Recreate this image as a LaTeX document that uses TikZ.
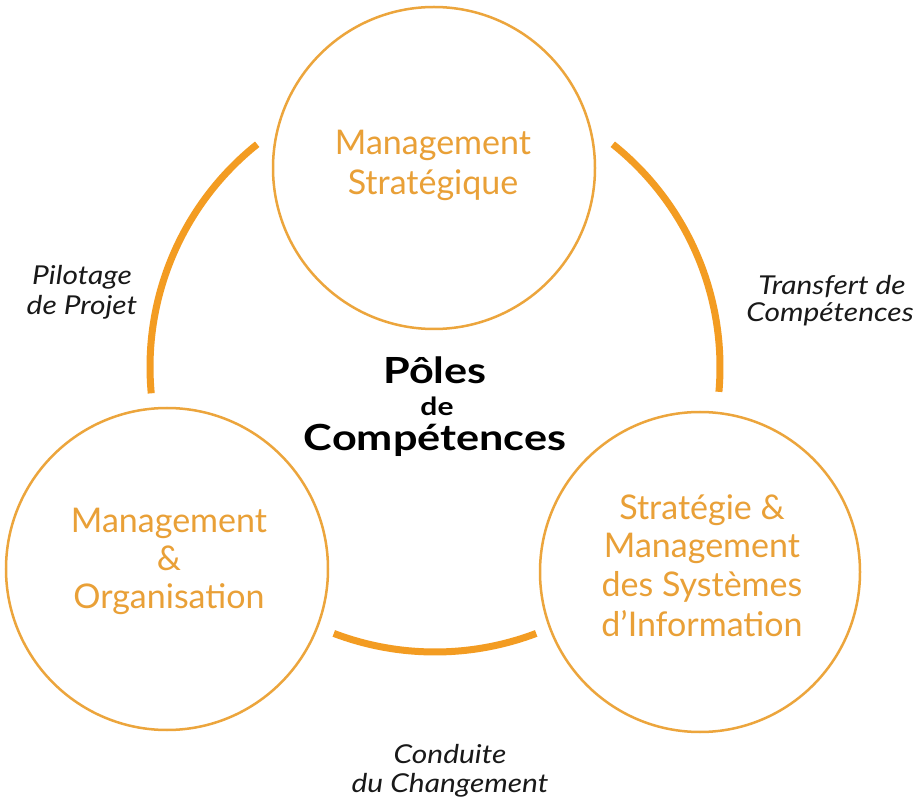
\documentclass[tikz,border=0pt]{standalone}
\usepackage{fontspec}
\setmainfont{Lato}
\newfontfamily\widefont[FakeStretch=1.2]{Lato}
\newfontfamily\labelfont[FakeStretch=1.15]{Lato}
\definecolor{arccol}{RGB}{243,156,34}
\definecolor{circcol}{RGB}{236,165,60}
\definecolor{orangetext}{RGB}{233,160,55}
\definecolor{darktext}{RGB}{25,25,25}
\begin{document}
\begin{tikzpicture}[x=1pt,y=1pt,
  pole/.style={circle,draw=circcol,line width=2.5pt,minimum size=#1,inner sep=0pt},
  poletext/.style={anchor=base,text=orangetext,font=\fontsize{34}{40}\selectfont,inner sep=0pt},
  linklabel/.style={anchor=base,text=darktext,font=\labelfont\itshape\fontsize{26}{30}\selectfont,inner sep=0pt},
  centertext/.style={anchor=base,text=black,font=\widefont\bfseries\fontsize{#1}{#1}\selectfont,inner sep=0pt},
  link/.style={draw=arccol,line width=7pt}]
\useasboundingbox (0,0) rectangle (922,807);
\fill[white] (0,0) rectangle (922,807);
% circles
\node[pole=322pt] (ms) at (434,639) {};
\node[pole=322pt] (mo) at (167,238) {};
\node[pole=320pt] (si) at (700,235) {};
% big arcs
\coordinate (hub) at (435,440);
\draw[link] ([shift={(128.6:285)}]hub) arc[start angle=128.6,end angle=185.3,radius=285];
\draw[link] ([shift={(51.4:285)}]hub) arc[start angle=51.4,end angle=-5,radius=285];
\draw[link] ([shift={(249.2:285)}]hub) arc[start angle=249.2,end angle=290.8,radius=285];
% circle texts
\node[poletext] (ms1) at (433,652) {Management};
\node[poletext] (ms2) at (433,612) {Stratégique};
\node[poletext] (mo1) at (169,274) {Management};
\node[poletext] (mo2) at (169,236) {\&};
\node[poletext] (mo3) at (169,198) {Organisation};
\node[poletext] (si1) at (702,287) {Stratégie \&};
\node[poletext] (si2) at (702,249) {Management};
\node[poletext] (si3) at (702,210) {des Systèmes};
\node[poletext] (si4) at (702,170) {d’Information};
% center
\node[centertext=36] (c1) at (435,423) {Pôles};
\node[centertext=25] (c2) at (437,391) {de};
\node[centertext=36] (c3) at (435,356) {Compétences};
% link labels
\node[linklabel] (pp1) at (82,522) {Pilotage};
\node[linklabel] (pp2) at (82,492) {de Projet};
\node[linklabel] (tc1) at (832,512) {Transfert de};
\node[linklabel] (tc2) at (830,485) {Compétences};
\node[linklabel] (cc1) at (450,44) {Conduite};
\node[linklabel] (cc2) at (450,15) {du Changement};
\end{tikzpicture}
\end{document}
